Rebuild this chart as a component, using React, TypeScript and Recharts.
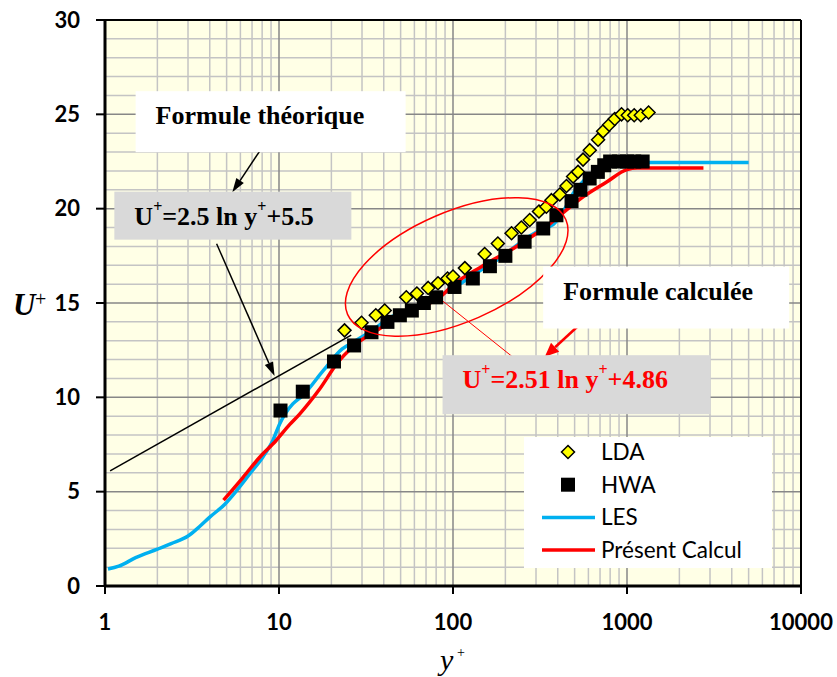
import React from 'react';
import {
  CartesianGrid,
  ComposedChart,
  Line,
  ReferenceDot,
  ReferenceLine,
  Scatter,
  XAxis,
  YAxis,
} from 'recharts';

// Profils de vitesse U+ en fonction de y+ : [y+, U+]
const LDA: [number, number][] = [
  [23.8, 13.55], [29.8, 13.95], [36, 14.35], [40.5, 14.6], [53.9, 15.3],
  [62, 15.5], [72, 15.8], [82, 16.05], [93, 16.3], [100, 16.4],
  [117, 16.85], [152, 17.6], [181, 18.15], [217, 18.7], [247, 19.0],
  [276, 19.4], [312, 19.85], [344, 20.1], [368, 20.45], [411, 20.75],
  [449, 21.2], [490, 21.7], [523, 21.95], [559, 22.6], [611, 23.1],
  [682, 23.65], [729, 24.1], [790, 24.45], [850, 24.75], [930, 25.0],
  [1010, 24.95], [1100, 24.95], [1200, 24.95], [1330, 25.1],
];

const HWA: [number, number][] = [
  [10.2, 9.3], [13.7, 10.3], [20.7, 11.9], [27, 12.75], [34, 13.45],
  [42, 14.0], [49.5, 14.35], [58, 14.6], [68, 15.0], [80, 15.3],
  [102, 15.85], [130, 16.3], [163, 16.95], [200, 17.5], [258, 18.25],
  [330, 18.95], [393, 19.65], [480, 20.4], [540, 21.0], [610, 21.6],
  [680, 21.95], [740, 22.3], [800, 22.5], [900, 22.5], [1000, 22.5],
  [1100, 22.5], [1230, 22.5],
];

const LES: [number, number][] = [
  [1.04, 0.9], [1.2, 1.05], [1.5, 1.5], [2.0, 1.95], [2.4, 2.25],
  [3.0, 2.65], [3.35, 3.0], [4.0, 3.65], [4.9, 4.35], [5.7, 5.05],
  [6.8, 5.95], [8.1, 6.85], [9.2, 7.7], [10.1, 8.6], [10.8, 9.1],
  [12, 9.65], [13.7, 10.1], [17.9, 11.4], [23, 12.55], [27, 12.95],
  [35, 13.6], [43, 14.2], [61, 14.8], [84, 15.4], [105, 15.9],
  [142, 16.7], [181, 17.3], [232, 18.05], [276, 18.55], [330, 18.95],
  [376, 19.15], [439, 20.0], [490, 20.8], [560, 21.45], [670, 22.05],
  [830, 22.35], [1080, 22.45], [5000, 22.45],
];

const CALCUL: [number, number][] = [
  [4.8, 4.55], [6.2, 5.75], [7.7, 6.8], [9.6, 7.7], [11.5, 8.55],
  [13.1, 9.1], [17, 10.4], [22, 11.9], [26, 12.6], [38, 13.65],
  [58, 14.6], [84, 15.3], [100, 15.95], [147, 16.95], [232, 18.0],
  [360, 19.2], [535, 20.5], [760, 21.4], [1000, 22.07], [1150, 22.15],
  [2750, 22.15],
];

const THEORIE: [number, number][] = [
  [1.07, 6.1], [26, 13.3],
];

const xTicks = [1, 10, 100, 1000, 10000];
const yTicks = [0, 5, 10, 15, 20, 25, 30];
const xMajor = [10, 100, 1000];
const xMinor = [
  2, 3, 4, 5, 6, 7, 8, 9,
  20, 30, 40, 50, 60, 70, 80, 90,
  200, 300, 400, 500, 600, 700, 800, 900,
  2000, 3000, 4000, 5000, 6000, 7000, 8000, 9000,
];
const yMajor = [5, 10, 15, 20, 25];
const yMinor = [
  1, 2, 3, 4, 6, 7, 8, 9, 11, 12, 13, 14,
  16, 17, 18, 19, 21, 22, 23, 24, 26, 27, 28, 29,
];

const toPts = (rows: [number, number][]) => rows.map(([x, y]) => ({ x, y }));

const SERIF = '"Liberation Serif", "Times New Roman", serif';
const SANS = 'Lato, "Noto Sans", sans-serif';

const BLUE = '#00B0F0';
const RED = '#FF0000';

const Diamond = (p: any) => {
  const { cx, cy } = p;
  const r = 6.5;
  return (
    <path
      d={`M${cx},${cy - r}L${cx + r},${cy}L${cx},${cy + r}L${cx - r},${cy}Z`}
      fill="#FFFF00"
      stroke="#000"
      strokeWidth={1.5}
    />
  );
};

const Square = (p: any) => {
  const { cx, cy } = p;
  return <rect key={p.key} x={cx - 7} y={cy - 7} width={14} height={14} fill="#000" />;
};

// boîte de texte centrée sur un point du graphe
const textBox =
  (w: number, h: number, fill: string, content: (x: number, y: number) => React.ReactNode) =>
  (p: any) => {
    const left = p.cx - w / 2;
    const top = p.cy - h / 2;
    return (
      <g>
        <rect x={left} y={top} width={w} height={h} fill={fill} />
        {content(left + 20, top + 33)}
      </g>
    );
  };

const Formula = ({ x, y, color, a, b }: { x: number; y: number; color: string; a: string; b: string }) => (
  <text x={x} y={y} fill={color} fontFamily={SERIF} fontWeight="bold" fontSize={26}>
    U
    <tspan fontSize={16} dy={-13}>+</tspan>
    <tspan dy={13}>{`=${a} ln y`}</tspan>
    <tspan fontSize={16} dy={-13}>+</tspan>
    <tspan dy={13}>{`+${b}`}</tspan>
  </text>
);

// flèche : trait + pointe au point d'arrivée
const arrow = (color: string, width: number, head: number, spread: number) => (p: any) => {
  const { x1, y1, x2, y2 } = p;
  const ang = Math.atan2(y2 - y1, x2 - x1);
  const bx = x2 - head * Math.cos(ang);
  const by = y2 - head * Math.sin(ang);
  const nx = -Math.sin(ang) * spread;
  const ny = Math.cos(ang) * spread;
  return (
    <g>
      <line x1={x1} y1={y1} x2={bx} y2={by} stroke={color} strokeWidth={width} />
      <polygon points={`${x2},${y2} ${bx + nx},${by + ny} ${bx - nx},${by - ny}`} fill={color} />
    </g>
  );
};

const ellipse = (p: any) => (
  <ellipse
    cx={p.cx}
    cy={p.cy}
    rx={119}
    ry={55}
    transform={`rotate(-23.5 ${p.cx} ${p.cy})`}
    fill="none"
    stroke={RED}
    strokeWidth={1.5}
  />
);

const legendRows = [
  { name: 'LDA', kind: 'diamond' },
  { name: 'HWA', kind: 'square' },
  { name: 'LES', kind: 'line', color: BLUE },
  { name: 'Présent Calcul', kind: 'line', color: RED },
];

const ChartLegend = () => (
  <div
    style={{
      position: 'absolute',
      left: 524,
      top: 437,
      width: 248,
      height: 131,
      background: '#fff',
    }}
  >
    <svg width={248} height={131}>
      {legendRows.map((r, i) => {
        const cy = 15 + i * 32.7;
        return (
          <g key={r.name}>
            {r.kind === 'diamond' && <Diamond cx={44} cy={cy} />}
            {r.kind === 'square' && <Square cx={44} cy={cy} />}
            {r.kind === 'line' && (
              <line x1={18} y1={cy} x2={71} y2={cy} stroke={r.color} strokeWidth={3.5} />
            )}
            <text x={77} y={cy + 8} fontFamily={SANS} fontSize={22.5} fill="#000">
              {r.name}
            </text>
          </g>
        );
      })}
    </svg>
  </div>
);

export default function App() {
  return (
    <div style={{ position: 'absolute', left: 0, top: 0, width: 837, height: 677, background: '#fff' }}>
      <ComposedChart
        width={837}
        height={677}
        margin={{ top: 20, right: 36, bottom: 31, left: 0 }}
      >
        <CartesianGrid
          fill="#FFFFE6"
          stroke="#C4C4C4"
          strokeWidth={1.5}
          horizontalValues={yMinor}
          verticalValues={xMinor}
        />
        <CartesianGrid
          stroke="#878787"
          strokeWidth={1.5}
          horizontalValues={yMajor}
          verticalValues={xMajor}
        />
        <XAxis
          dataKey="x"
          type="number"
          scale="log"
          domain={[1, 10000]}
          ticks={xTicks}
          interval={0}
          allowDataOverflow
          height={60}
          tickSize={8}
          tickMargin={20}
          axisLine={{ stroke: '#000', strokeWidth: 3 }}
          tickLine={{ stroke: '#000', strokeWidth: 2 }}
          tick={{ fill: '#000', fontSize: 22, fontWeight: 700, fontFamily: SANS }}
        />
        <YAxis
          dataKey="y"
          type="number"
          domain={[0, 30]}
          ticks={yTicks}
          interval={0}
          allowDataOverflow
          width={105}
          tickSize={9}
          tickMargin={16}
          axisLine={{ stroke: '#000', strokeWidth: 3 }}
          tickLine={{ stroke: '#000', strokeWidth: 2 }}
          tick={{ fill: '#000', fontSize: 22, fontWeight: 700, fontFamily: SANS }}
        />
        <ReferenceLine y={30} stroke="#000" strokeWidth={2} />
        <ReferenceLine x={10000} stroke="#000" strokeWidth={2} />

        {/* HWA : marqueurs seuls, sous les courbes LES / calcul */}
        <Line
          name="HWA"
          data={toPts(HWA)}
          dataKey="y"
          stroke="none"
          dot={Square}
          activeDot={false}
          isAnimationActive={false}
        />
        <Line
          name="LES"
          data={toPts(LES)}
          dataKey="y"
          type="monotone"
          stroke={BLUE}
          strokeWidth={3.5}
          dot={false}
          activeDot={false}
          isAnimationActive={false}
        />
        <Line
          name="Présent Calcul"
          data={toPts(CALCUL)}
          dataKey="y"
          type="monotone"
          stroke={RED}
          strokeWidth={3.5}
          dot={false}
          activeDot={false}
          isAnimationActive={false}
        />
        <Line
          name="Formule théorique"
          data={toPts(THEORIE)}
          dataKey="y"
          type="linear"
          stroke="#000"
          strokeWidth={1.5}
          dot={false}
          activeDot={false}
          isAnimationActive={false}
        />
        <Scatter name="LDA" data={toPts(LDA)} dataKey="y" shape={Diamond} isAnimationActive={false} />

        <ReferenceDot x={105} y={16.91} r={1} shape={ellipse} />

        <ReferenceDot
          x={8.95}
          y={24.61}
          r={1}
          shape={textBox(270, 61, '#fff', (x, y) => (
            <text x={x} y={y} fontFamily={SERIF} fontWeight="bold" fontSize={26} fill="#000">
              Formule théorique
            </text>
          ))}
        />
        <ReferenceDot
          x={5.43}
          y={19.63}
          r={1}
          shape={textBox(237, 48, '#D9D9D9', (x, y) => (
            <Formula x={x} y={y} color="#000" a="2.5" b="5.5" />
          ))}
        />
        <ReferenceDot
          x={1679}
          y={15.29}
          r={1}
          shape={textBox(246, 62, '#fff', (x, y) => (
            <text x={x} y={y} fontFamily={SERIF} fontWeight="bold" fontSize={26} fill="#000">
              Formule calculée
            </text>
          ))}
        />
        <ReferenceDot
          x={513}
          y={10.67}
          r={1}
          shape={textBox(268, 59, '#D9D9D9', (x, y) => (
            <Formula x={x} y={y} color={RED} a="2.51" b="4.86" />
          ))}
        />

        <ReferenceLine segment={[{ x: 8.45, y: 23.57 }, { x: 5.39, y: 20.87 }]} shape={arrow('#000', 1.5, 14, 4.5)} />
        <ReferenceLine segment={[{ x: 4.38, y: 18.14 }, { x: 9.43, y: 11.13 }]} shape={arrow('#000', 1.5, 14, 4.5)} />
        <ReferenceLine segment={[{ x: 585, y: 14.19 }, { x: 337, y: 12.15 }]} shape={arrow(RED, 2.5, 14, 6)} />
        <ReferenceLine segment={[{ x: 231.6, y: 11.98 }, { x: 76.4, y: 15.53 }]} shape={arrow(RED, 1, 9, 3)} />
      </ComposedChart>

      <ChartLegend />

      <svg
        width={837}
        height={677}
        style={{ position: 'absolute', left: 0, top: 0, pointerEvents: 'none' }}
      >
        <text x={13} y={315} fontFamily={SERIF} fontStyle="italic" fontWeight="bold" fontSize={31} fill="#000">
          U
        </text>
        <text x={35} y={306} fontFamily={SERIF} fontSize={20} fill="#000">
          +
        </text>
        <text x={440} y={670} fontFamily={SERIF} fontStyle="italic" fontSize={30} fill="#000">
          y
        </text>
        <text x={457} y={657} fontFamily={SERIF} fontSize={14} fill="#000">
          +
        </text>
      </svg>
    </div>
  );
}
